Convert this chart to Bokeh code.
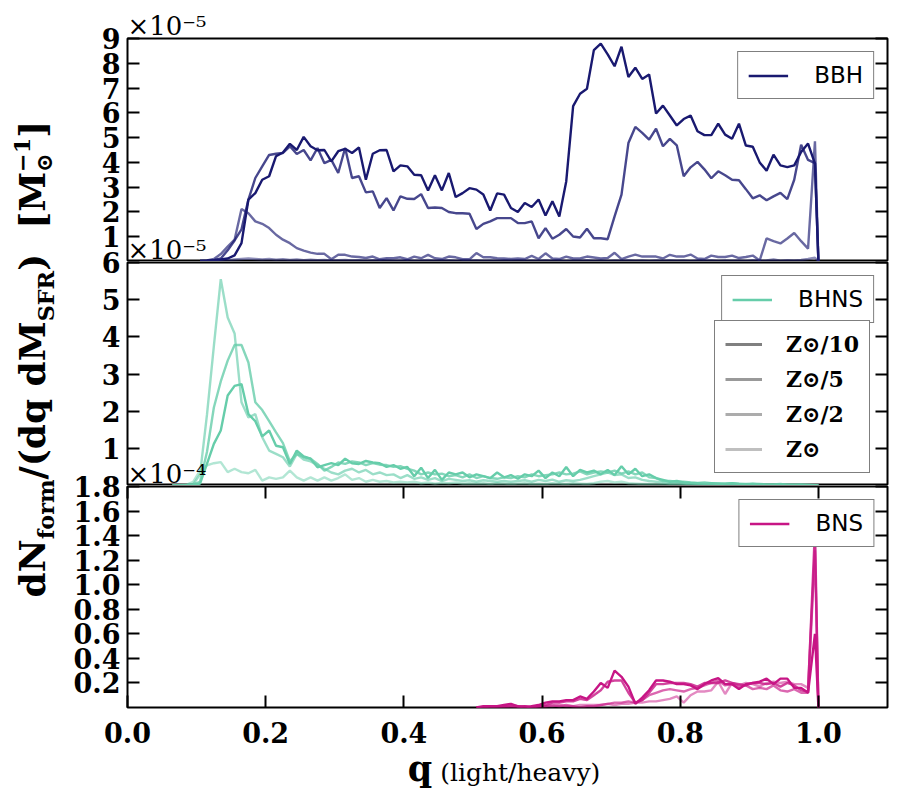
from bokeh.plotting import figure
from bokeh.models import (Range1d, LinearAxis, FixedTicker, PrintfTickFormatter,
                          Legend, LegendItem, Title, Div, ColumnDataSource)
from bokeh.layouts import row, column
from bokeh.embed import file_html
from bokeh.resources import INLINE

nan = float("nan")

# bin centres of the mass-ratio histogram, plus the closing edge at q = 1
q_bins = [round(0.005 + 0.01 * k, 3) for k in range(100)] + [1.0]

met_labels = ["Z⊙/10", "Z⊙/5", "Z⊙/2", "Z⊙"]
met_alpha = [1.0, 0.8, 0.65, 0.5]

# ---------------- BBH  (units of 1e-5) ----------------
bbh_z10 = [nan] * 10 + [
    0.02, 0.03, 0.05, 0.08, 0.12, 0.25,
    0.74, 2.5, 2.76, 3.3, 3.44, 4.25, 4.4, 4.75, 4.5, 5.03,
    4.65, 4.49, 4.5, 4.04, 4.45, 4.55, 4.38, 4.6, 3.3, 4.35,
    4.49, 4.5, 3.64, 3.88, 3.84, 3.5, 3.48, 2.87, 3.48, 2.87,
    3.57, 2.6, 2.76, 2.96, 2.9, 2.7, 2.06, 2.75,
    2.7, 2.16, 2.0, 2.36, 2.2, 2.5, 1.86, 2.43, 1.82, 3.23,
    6.27, 6.77, 6.97, 8.53, 8.79, 8.36, 7.88, 8.67, 7.45, 7.82,
    7.37, 7.55, 5.97, 6.29, 5.89, 5.49, 5.75, 5.89, 5.26, 5.1,
    5.1, 5.56, 5.12, 4.95, 5.56, 4.68, 4.63, 4.0, 3.66, 4.31,
    3.88, 3.81, 3.88, 4.42, 4.76, 3.95,
    0.0]
bbh_z5 = [nan] * 10 + [
    0.02, 0.03, 0.05, 0.12, 0.45, 0.85,
    1.3, 2.5, 3.37, 3.84, 4.3, 4.35, 4.38, 4.65, 4.34, 4.5,
    4.08, 4.58, 3.97, 4.1, 3.57, 4.58, 3.37, 3.44, 2.79, 2.83,
    2.16, 2.56, 2.06, 2.63, 2.53, 2.52, 2.72, 2.16, 2.18, 2.16,
    2.0, 1.95, 1.95, 1.93, 1.31, 1.52, 1.62, 1.75,
    1.75, 1.75, 1.55, 1.55, 1.62, 0.94, 1.35, 0.92, 1.08, 1.31,
    1.01, 0.97, 1.32, 0.94, 0.94, 0.9, 1.82, 2.7, 4.78, 5.43,
    5.19, 4.92, 5.36, 4.65, 4.95, 4.69, 3.44, 3.8, 4.02, 3.72,
    3.36, 3.64, 3.48, 3.3, 3.28, 2.92, 2.55, 2.67, 2.47, 2.63,
    2.77, 2.52, 3.3, 4.71, 4.1, 3.97,
    0.0]
bbh_z2 = [nan] * 10 + [
    0.02, 0.04, 0.1, 0.3, 0.6, 0.88, 2.12, 1.95, 1.62, 1.52,
    1.35, 1.08, 0.88, 0.74, 0.54, 0.44, 0.36, 0.31, 0.31, 0.09,
    0.27, 0.27, 0.2, 0.18, 0.14, 0.2, 0.09, 0.13, 0.13, 0.17,
    0.09, 0.2, 0.13, 0.27, 0.13, 0.1, 0.2, 0.17, 0.09, 0.09,
    0.34, 0.17, 0.17, 0.13, 0.12, 0.1, 0.12, 0.1, 0.23, 0.1,
    0.33, 0.12, 0.1, 0.2, 0.12, 0.12, 0.2, 0.16, 0.12, 0.14,
    0.35, 0.1, 0.2, 0.28, 0.2, 0.2, 0.2, 0.12, 0.27, 0.2,
    0.2, 0.28, 0.12, 0.1, 0.24, 0.18, 0.18, 0.24, 0.14, 0.18,
    0.24, 0.04, 0.93, 0.82, 0.73, 0.93, 1.15, 0.82, 0.52, 4.85,
    0.0]
bbh_z1 = [nan] * 10 + [
    0.0, 0.01, 0.02, 0.03, 0.05, 0.08, 0.1, 0.12, 0.1, 0.08,
    0.1, 0.07, 0.09, 0.06, 0.08, 0.05, 0.07, 0.05, 0.06, 0.04,
    0.05, 0.06, 0.04, 0.05, 0.03, 0.05, 0.04, 0.06, 0.03, 0.04,
    0.05, 0.03, 0.04, 0.06, 0.03, 0.04, 0.05, 0.03, 0.04, 0.03,
    0.05, 0.03, 0.04, 0.03, 0.05, 0.02, 0.04, 0.03, 0.04, 0.03,
    0.05, 0.03, 0.04, 0.02, 0.04, 0.03, 0.05, 0.03, 0.04, 0.02,
    0.04, 0.03, 0.05, 0.03, 0.04, 0.02, 0.04, 0.03, 0.05, 0.03,
    0.04, 0.02, 0.04, 0.03, 0.05, 0.02, 0.04, 0.03, 0.04, 0.02,
    0.05, 0.03, 0.04, 0.08, 0.03, 0.05, 0.04, 0.06, 0.1, 0.15,
    0.0]

# ---------------- BHNS (units of 1e-5) ----------------
bhns_z10 = [nan] * 6 + [
    0.0, 0.0, 0.01, 0.02,
    0.05, 0.58, 1.12, 1.48, 2.42, 2.68, 2.73, 1.92, 1.73, 1.32,
    1.48, 1.07, 1.03, 0.58, 0.94, 0.78, 0.72, 0.49, 0.55, 0.6,
    0.55, 0.72, 0.6, 0.58, 0.66, 0.62, 0.6, 0.5, 0.55, 0.45,
    0.5, 0.25, 0.48, 0.2, 0.42, 0.15, 0.35, 0.3, 0.35, 0.22,
    0.3, 0.25, 0.2, 0.35, 0.22, 0.28, 0.18, 0.3, 0.25, 0.4,
    0.2, 0.35, 0.25, 0.5, 0.25, 0.42, 0.35, 0.4, 0.3, 0.42,
    0.28, 0.52, 0.3, 0.45, 0.25, 0.3, 0.2, 0.15, 0.1, 0.12,
    0.08, 0.07, 0.06, 0.05, 0.06, 0.04, 0.05, 0.06, 0.04, 0.03,
    0.04, 0.03, 0.02, 0.02, 0.03, 0.02, 0.01, 0.02, 0.01, 0.01,
    0.0]
bhns_z5 = [nan] * 6 + [
    0.0, 0.0, 0.01, 0.03,
    0.1, 0.9, 2.1, 2.8, 3.36, 3.78, 3.78, 3.31, 2.24, 2.03,
    1.73, 1.43, 1.14, 0.65, 0.85, 0.76, 0.72, 0.58, 0.4, 0.5,
    0.62, 0.58, 0.65, 0.62, 0.55, 0.6, 0.56, 0.55, 0.5, 0.52,
    0.45, 0.4, 0.3, 0.35, 0.3, 0.32, 0.25, 0.28, 0.22, 0.3,
    0.2, 0.25, 0.2, 0.18, 0.22, 0.2, 0.25, 0.22, 0.3, 0.25,
    0.28, 0.3, 0.35, 0.3, 0.32, 0.38, 0.3, 0.35, 0.38, 0.35,
    0.4, 0.32, 0.38, 0.3, 0.35, 0.22, 0.2, 0.12, 0.12, 0.1,
    0.1, 0.08, 0.07, 0.08, 0.06, 0.06, 0.05, 0.06, 0.05, 0.04,
    0.05, 0.04, 0.03, 0.03, 0.04, 0.02, 0.03, 0.02, 0.02, 0.01,
    0.0]
bhns_z2 = [nan] * 6 + [
    0.0, 0.0, 0.01, 0.03,
    0.3, 1.9, 3.75, 5.55, 4.52, 4.09, 2.24, 1.83, 1.92, 1.3,
    0.94, 0.85, 0.76, 0.51, 0.85, 0.7, 0.65, 0.55, 0.45, 0.35,
    0.3, 0.4, 0.45, 0.35, 0.42, 0.3, 0.35, 0.28, 0.3, 0.2,
    0.28, 0.18, 0.22, 0.15, 0.2, 0.12, 0.18, 0.15, 0.12, 0.14,
    0.1, 0.14, 0.12, 0.1, 0.12, 0.1, 0.12, 0.14, 0.1, 0.15,
    0.12, 0.16, 0.1, 0.14, 0.12, 0.15, 0.2, 0.25, 0.3, 0.35,
    0.28, 0.3, 0.2, 0.22, 0.15, 0.12, 0.1, 0.08, 0.06, 0.06,
    0.05, 0.04, 0.05, 0.03, 0.04, 0.03, 0.02, 0.03, 0.02, 0.02,
    0.01, 0.02, 0.01, 0.01, 0.01, 0.01, 0.01, 0.0, 0.01, 0.0,
    0.0]
bhns_z1 = [nan] * 6 + [
    0.0, 0.01, 0.02, 0.1,
    0.4, 0.54, 0.6, 0.63, 0.36, 0.45, 0.36, 0.33, 0.42, 0.13,
    0.22, 0.18, 0.22, 0.4, 0.22, 0.13, 0.22, 0.13, 0.22, 0.13,
    0.2, 0.3, 0.15, 0.2, 0.1, 0.15, 0.1, 0.12, 0.08, 0.1,
    0.08, 0.1, 0.06, 0.08, 0.05, 0.07, 0.06, 0.08, 0.05, 0.06,
    0.05, 0.06, 0.04, 0.06, 0.05, 0.04, 0.05, 0.06, 0.04, 0.05,
    0.04, 0.06, 0.05, 0.04, 0.06, 0.05, 0.04, 0.06, 0.1, 0.12,
    0.08, 0.1, 0.06, 0.05, 0.04, 0.04, 0.03, 0.03, 0.02, 0.02,
    0.02, 0.02, 0.01, 0.02, 0.01, 0.01, 0.02, 0.01, 0.01, 0.01,
    0.01, 0.01, 0.0, 0.01, 0.0, 0.01, 0.0, 0.0, 0.0, 0.0,
    0.0]

# ---------------- BNS  (units of 1e-4) ----------------
bns_z10 = [nan] * 50 + [
    0.0, 0.01, 0.01, 0.01, 0.02, 0.03, 0.01, 0.0, 0.01, 0.02,
    0.04, 0.05, 0.05, 0.06, 0.06, 0.09, 0.07, 0.13, 0.2, 0.16,
    0.3, 0.25, 0.17, 0.03, 0.08, 0.14, 0.22, 0.22, 0.21, 0.19,
    0.19, 0.18, 0.15, 0.19, 0.22, 0.24, 0.19, 0.19, 0.15, 0.19,
    0.2, 0.21, 0.235, 0.19, 0.235, 0.235, 0.16, 0.16, 0.12, 0.6,
    0.0]
bns_z5 = [nan] * 50 + [
    0.0, 0.0, 0.01, 0.01, 0.01, 0.02, 0.01, 0.01, 0.0, 0.01,
    0.02, 0.04, 0.04, 0.05, 0.05, 0.07, 0.06, 0.1, 0.14, 0.21,
    0.22, 0.22, 0.12, 0.04, 0.06, 0.12, 0.19, 0.19, 0.2, 0.2,
    0.2, 0.19, 0.17, 0.2, 0.2, 0.2, 0.22, 0.2, 0.19, 0.18,
    0.2, 0.2, 0.19, 0.2, 0.17, 0.2, 0.18, 0.14, 0.13, 1.45,
    0.0]
bns_z2 = [nan] * 50 + [
    0.0, 0.0, 0.0, 0.01, 0.0, 0.01, 0.0, 0.01, 0.0, 0.01,
    0.01, 0.02, 0.01, 0.02, 0.01, 0.0, 0.01, 0.01, 0.02, 0.03,
    0.04, 0.04, 0.05, 0.04, 0.06, 0.1, 0.12, 0.14, 0.15, 0.14,
    0.13, 0.15, 0.16, 0.18, 0.2, 0.22, 0.18, 0.19, 0.17, 0.18,
    0.15, 0.16, 0.15, 0.18, 0.14, 0.13, 0.15, 0.12, 0.12, 1.28,
    0.0]
bns_z1 = [nan] * 50 + [
    0.0, 0.0, 0.0, 0.0, 0.01, 0.0, 0.0, 0.01, 0.0, 0.0,
    0.01, 0.01, 0.02, 0.01, 0.01, 0.02, 0.02, 0.02, 0.02, 0.03,
    0.02, 0.03, 0.03, 0.04, 0.04, 0.05, 0.05, 0.06, 0.07, 0.09,
    0.04, 0.1, 0.13, 0.13, 0.14, 0.21, 0.11, 0.2, 0.18, 0.2,
    0.19, 0.17, 0.2, 0.21, 0.2, 0.21, 0.19, 0.19, 0.16, 1.32,
    0.0]

panels = [
    dict(name="BBH", color="#191970", series=[bbh_z10, bbh_z5, bbh_z2, bbh_z1],
         ymax=9, ticks=[1, 2, 3, 4, 5, 6, 7, 8, 9], fmt="%d", scale="×10⁻⁵"),
    dict(name="BHNS", color="#66CDAA", series=[bhns_z10, bhns_z5, bhns_z2, bhns_z1],
         ymax=6, ticks=[1, 2, 3, 4, 5, 6], fmt="%d", scale="×10⁻⁵"),
    dict(name="BNS", color="#C71585", series=[bns_z10, bns_z5, bns_z2, bns_z1],
         ymax=1.8, ticks=[0.2, 0.4, 0.6, 0.8, 1.0, 1.2, 1.4, 1.6, 1.8], fmt="%.1f", scale="×10⁻⁴"),
]
x_ticks = [0.0, 0.2, 0.4, 0.6, 0.8, 1.0]

for pn in panels:
    for s in pn["series"]:
        assert len(s) == len(q_bins), (pn["name"], len(s))

SERIF = "DejaVu Serif"
SANS = "DejaVu Sans"
xr = Range1d(0, 1.1)


def style_axis(ax, ticks, fmt, show_labels=True, standoff=7):
    ax.ticker = FixedTicker(ticks=ticks)
    ax.formatter = PrintfTickFormatter(format=fmt)
    ax.axis_line_color = None
    ax.major_tick_in = 12
    ax.major_tick_out = 0
    ax.major_tick_line_width = 2
    ax.major_tick_line_color = "black"
    ax.minor_tick_line_color = None
    if show_labels:
        ax.major_label_text_font = SERIF
        ax.major_label_text_font_style = "bold"
        ax.major_label_text_font_size = "27px"
        ax.major_label_text_color = "black"
        ax.major_label_standoff = standoff
    else:
        ax.major_label_text_font_size = "0px"
        ax.major_label_text_color = None
        ax.major_label_standoff = 0


def style_legend(lg, font, size, bold=False):
    lg.label_text_font = font
    lg.label_text_font_size = size
    lg.label_text_font_style = "bold" if bold else "normal"
    lg.label_text_color = "black"
    lg.border_line_color = "black"
    lg.border_line_width = 1.5
    lg.background_fill_color = "white"
    lg.background_fill_alpha = 1.0
    lg.padding = 10


# (canvas height, top border, bottom border)
heights = [(261, 38, 0), (250, 26, 0), (294, 26, 46)]
figs = []
for i, pn in enumerate(panels):
    h, top, bottom = heights[i]
    last = i == len(panels) - 1
    p = figure(width=824, height=h, x_range=xr, y_range=Range1d(0, pn["ymax"]),
               output_backend="svg", toolbar_location=None,
               x_axis_location="below" if last else None,
               min_border_left=59, min_border_right=5,
               min_border_top=top, min_border_bottom=bottom)
    p.grid.visible = False
    p.outline_line_color = "black"
    p.outline_line_width = 2
    p.border_fill_color = None
    p.background_fill_color = "white"
    if i > 0:
        p.margin = (-top, 0, 0, 0)

    src = ColumnDataSource(dict(q=q_bins, z10=pn["series"][0], z5=pn["series"][1],
                                z2=pn["series"][2], z1=pn["series"][3]))
    rends = {}
    for key, a in reversed(list(zip(["z10", "z5", "z2", "z1"], met_alpha))):
        rends[key] = p.line("q", key, source=src, line_color=pn["color"],
                            line_alpha=a, line_width=2.4)

    style_axis(p.yaxis[0], pn["ticks"], pn["fmt"], True, 7)
    ra = LinearAxis()
    p.add_layout(ra, "right")
    style_axis(ra, pn["ticks"], pn["fmt"], False)

    if last:
        style_axis(p.xaxis[0], x_ticks, "%.1f", True, 14)
        ta = LinearAxis()
        p.add_layout(ta, "above")
        style_axis(ta, x_ticks, "%.1f", False)

    # scale factor written above the top-left corner of each panel
    t = Title(text=pn["scale"], align="left", offset=0, standoff=-5,
              text_font=SERIF, text_font_size="26px", text_font_style="normal",
              text_color="black")
    p.add_layout(t, "above")

    lg = Legend(items=[LegendItem(label=pn["name"], renderers=[rends["z10"]])],
                location="top_right")
    style_legend(lg, SANS, "23px")
    lg.margin = 13
    lg.glyph_width = 40
    lg.glyph_height = 23
    lg.label_height = 23
    lg.label_standoff = 26
    p.add_layout(lg)

    if pn["name"] == "BHNS":
        dummies = [p.line(x=[nan], y=[nan], line_color="#808080", line_alpha=a, line_width=3)
                   for a in met_alpha]
        zl = Legend(items=[LegendItem(label=lab, renderers=[r]) for lab, r in zip(met_labels, dummies)],
                    location=(587, 12))
        style_legend(zl, SERIF, "22px", bold=True)
        zl.spacing = 9
        zl.glyph_width = 37
        zl.glyph_height = 26
        zl.label_height = 26
        zl.label_standoff = 24
        p.add_layout(zl)
    figs.append(p)

TOTAL_H = 261 + 224 + 268 + 36

xlab_html = (
    '<div style="position:relative;width:824px;height:36px;">'
    '<div style="position:absolute;left:431px;top:-7px;transform:translateX(-50%);'
    "white-space:nowrap;font-family:'DejaVu Serif',serif;color:#000;line-height:1;\">"
    '<span style="font-weight:bold;font-size:35px;">q</span>'
    '<span style="font-size:25px;">&nbsp;(light/heavy)</span>'
    '</div></div>')
xlab = Div(text=xlab_html, width=824, height=36)

ylab_html = (
    '<div style="position:relative;width:58px;height:%dpx;">'
    '<div style="position:absolute;left:30px;top:354px;'
    'transform:translate(-50%%,-50%%) rotate(-90deg);white-space:nowrap;'
    "font-family:'DejaVu Serif',serif;font-weight:bold;font-size:36px;line-height:1.2;color:#000;\">"
    'dN<sub style="font-size:0.62em;">form</sub>/(dq dM<sub style="font-size:0.62em;">SFR</sub>)'
    '&nbsp;&nbsp;[M<span style="display:inline-block;font-size:0.62em;line-height:1.0;'
    'vertical-align:-0.3em;text-align:left;">−1<br>⊙</span>]'
    '</div></div>') % TOTAL_H
ylab = Div(text=ylab_html, width=58, height=TOTAL_H)

layout = row(ylab, column(*figs, xlab))
open("out.html", "w").write(file_html(layout, INLINE))
